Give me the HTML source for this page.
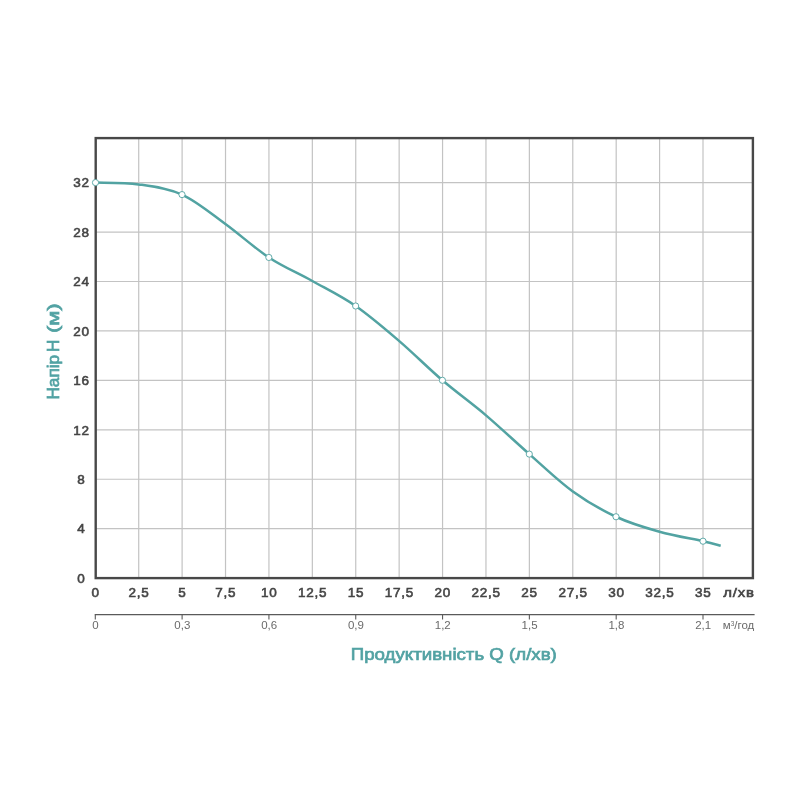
<!DOCTYPE html>
<html lang="uk"><head><meta charset="utf-8"><title>Продуктивність Q (л/хв) — Напір H (м)</title>
<style>
html,body{margin:0;padding:0;background:#fff;}
body{width:800px;height:800px;overflow:hidden;}
svg{display:block;}
text{font-family:"Liberation Sans","DejaVu Sans",sans-serif;}
.lab{font-size:13.5px;fill:#454545;stroke:#454545;stroke-width:0.6px;letter-spacing:0.75px;}
.sm{font-size:11.5px;fill:#6a6a6a;}
.ttl{font-size:17px;fill:#52a2a3;stroke:#52a2a3;stroke-width:0.7px;}
</style></head><body>
<svg width="800" height="800" viewBox="0 0 800 800">
<rect width="800" height="800" fill="#ffffff"/>

<g stroke="#c3c3c3" stroke-width="1.2" fill="none">
<line x1="138.71" y1="138.10" x2="138.71" y2="578.10"/>
<line x1="182.11" y1="138.10" x2="182.11" y2="578.10"/>
<line x1="225.52" y1="138.10" x2="225.52" y2="578.10"/>
<line x1="268.93" y1="138.10" x2="268.93" y2="578.10"/>
<line x1="312.34" y1="138.10" x2="312.34" y2="578.10"/>
<line x1="355.74" y1="138.10" x2="355.74" y2="578.10"/>
<line x1="399.15" y1="138.10" x2="399.15" y2="578.10"/>
<line x1="442.56" y1="138.10" x2="442.56" y2="578.10"/>
<line x1="485.96" y1="138.10" x2="485.96" y2="578.10"/>
<line x1="529.37" y1="138.10" x2="529.37" y2="578.10"/>
<line x1="572.78" y1="138.10" x2="572.78" y2="578.10"/>
<line x1="616.19" y1="138.10" x2="616.19" y2="578.10"/>
<line x1="659.59" y1="138.10" x2="659.59" y2="578.10"/>
<line x1="703.00" y1="138.10" x2="703.00" y2="578.10"/>
<line x1="95.70" y1="528.66" x2="752.90" y2="528.66"/>
<line x1="95.70" y1="479.23" x2="752.90" y2="479.23"/>
<line x1="95.70" y1="429.79" x2="752.90" y2="429.79"/>
<line x1="95.70" y1="380.35" x2="752.90" y2="380.35"/>
<line x1="95.70" y1="330.91" x2="752.90" y2="330.91"/>
<line x1="95.70" y1="281.48" x2="752.90" y2="281.48"/>
<line x1="95.70" y1="232.04" x2="752.90" y2="232.04"/>
<line x1="95.70" y1="182.60" x2="752.90" y2="182.60"/>
</g>
<rect x="95.70" y="138.10" width="657.20" height="440.00" fill="none" stroke="#484848" stroke-width="2.4"/>
<path d="M95.50 182.60 C102.68 182.90 124.18 182.40 138.60 184.40 C153.02 186.40 167.53 188.00 182.00 194.60 C196.47 201.20 210.93 213.53 225.40 224.00 C239.88 234.47 254.37 247.95 268.85 257.45 C283.33 266.95 297.83 272.91 312.30 281.00 C326.77 289.09 341.15 295.98 355.65 306.00 C370.15 316.02 384.84 328.72 399.30 341.10 C413.76 353.48 428.00 367.97 442.40 380.30 C456.80 392.63 471.22 402.80 485.70 415.10 C500.18 427.40 514.83 441.42 529.30 454.10 C543.77 466.78 558.05 480.76 572.50 491.20 C586.95 501.64 601.50 509.99 616.00 516.75 C630.50 523.51 645.00 527.67 659.50 531.75 C674.00 535.83 692.80 538.88 703.00 541.20 C713.20 543.53 717.75 544.95 720.70 545.70" fill="none" stroke="#52a3a2" stroke-width="2.5" stroke-linecap="butt" stroke-linejoin="round"/>
<circle cx="95.50" cy="182.60" r="3.1" fill="#ffffff" stroke="#52a3a2" stroke-width="0.9"/>
<circle cx="182.00" cy="194.60" r="3.1" fill="#ffffff" stroke="#52a3a2" stroke-width="0.9"/>
<circle cx="268.85" cy="257.45" r="3.1" fill="#ffffff" stroke="#52a3a2" stroke-width="0.9"/>
<circle cx="355.65" cy="306.00" r="3.1" fill="#ffffff" stroke="#52a3a2" stroke-width="0.9"/>
<circle cx="442.40" cy="380.30" r="3.1" fill="#ffffff" stroke="#52a3a2" stroke-width="0.9"/>
<circle cx="529.30" cy="454.10" r="3.1" fill="#ffffff" stroke="#52a3a2" stroke-width="0.9"/>
<circle cx="616.00" cy="516.75" r="3.1" fill="#ffffff" stroke="#52a3a2" stroke-width="0.9"/>
<circle cx="703.00" cy="541.20" r="3.1" fill="#ffffff" stroke="#52a3a2" stroke-width="0.9"/>
<g class="lab" text-anchor="middle">
<text x="81.5" y="582.90">0</text>
<text x="81.5" y="533.46">4</text>
<text x="81.5" y="484.03">8</text>
<text x="81.5" y="434.59">12</text>
<text x="81.5" y="385.15">16</text>
<text x="81.5" y="335.71">20</text>
<text x="81.5" y="286.28">24</text>
<text x="81.5" y="236.84">28</text>
<text x="81.5" y="187.40">32</text>
</g>
<g class="lab" text-anchor="middle">
<text x="95.55" y="597.3">0</text>
<text x="138.96" y="597.3">2,5</text>
<text x="182.36" y="597.3">5</text>
<text x="225.77" y="597.3">7,5</text>
<text x="269.18" y="597.3">10</text>
<text x="312.59" y="597.3">12,5</text>
<text x="355.99" y="597.3">15</text>
<text x="399.40" y="597.3">17,5</text>
<text x="442.81" y="597.3">20</text>
<text x="486.21" y="597.3">22,5</text>
<text x="529.62" y="597.3">25</text>
<text x="573.03" y="597.3">27,5</text>
<text x="616.44" y="597.3">30</text>
<text x="659.84" y="597.3">32,5</text>
<text x="703.25" y="597.3">35</text>
</g>
<text class="lab" x="723.3" y="597.3" textLength="31.6" lengthAdjust="spacingAndGlyphs">л/хв</text>
<g stroke="#5a5a5a" stroke-width="1.1" fill="none">
<line x1="94.75" y1="614.6" x2="754.6" y2="614.6"/>
<line x1="95.30" y1="614.6" x2="95.30" y2="619.6"/>
<line x1="182.11" y1="614.6" x2="182.11" y2="619.6"/>
<line x1="268.93" y1="614.6" x2="268.93" y2="619.6"/>
<line x1="355.74" y1="614.6" x2="355.74" y2="619.6"/>
<line x1="442.56" y1="614.6" x2="442.56" y2="619.6"/>
<line x1="529.37" y1="614.6" x2="529.37" y2="619.6"/>
<line x1="616.19" y1="614.6" x2="616.19" y2="619.6"/>
<line x1="703.00" y1="614.6" x2="703.00" y2="619.6"/>
</g>
<g class="sm" text-anchor="middle">
<text x="95.50" y="629.0">0</text>
<text x="182.31" y="629.0">0,3</text>
<text x="269.13" y="629.0">0,6</text>
<text x="355.94" y="629.0">0,9</text>
<text x="442.76" y="629.0">1,2</text>
<text x="529.57" y="629.0">1,5</text>
<text x="616.39" y="629.0">1,8</text>
<text x="703.20" y="629.0">2,1</text>
</g>
<text class="sm" x="722.8" y="629.0">м<tspan font-size="6.5" dy="-3.5">3</tspan><tspan dy="3.5">/год</tspan></text>
<text class="ttl" x="453.8" y="659.5" text-anchor="middle" textLength="206" lengthAdjust="spacingAndGlyphs">Продуктивність Q (л/хв)</text>
<g class="ttl" transform="translate(59 0) rotate(-90)">
<text x="-399.6" y="0" textLength="44.8" lengthAdjust="spacingAndGlyphs">Напір</text>
<text x="-351.9" y="0">H</text>
<text x="-333.0" y="0" textLength="29.6" lengthAdjust="spacingAndGlyphs">(м)</text>
</g>
</svg></body></html>
